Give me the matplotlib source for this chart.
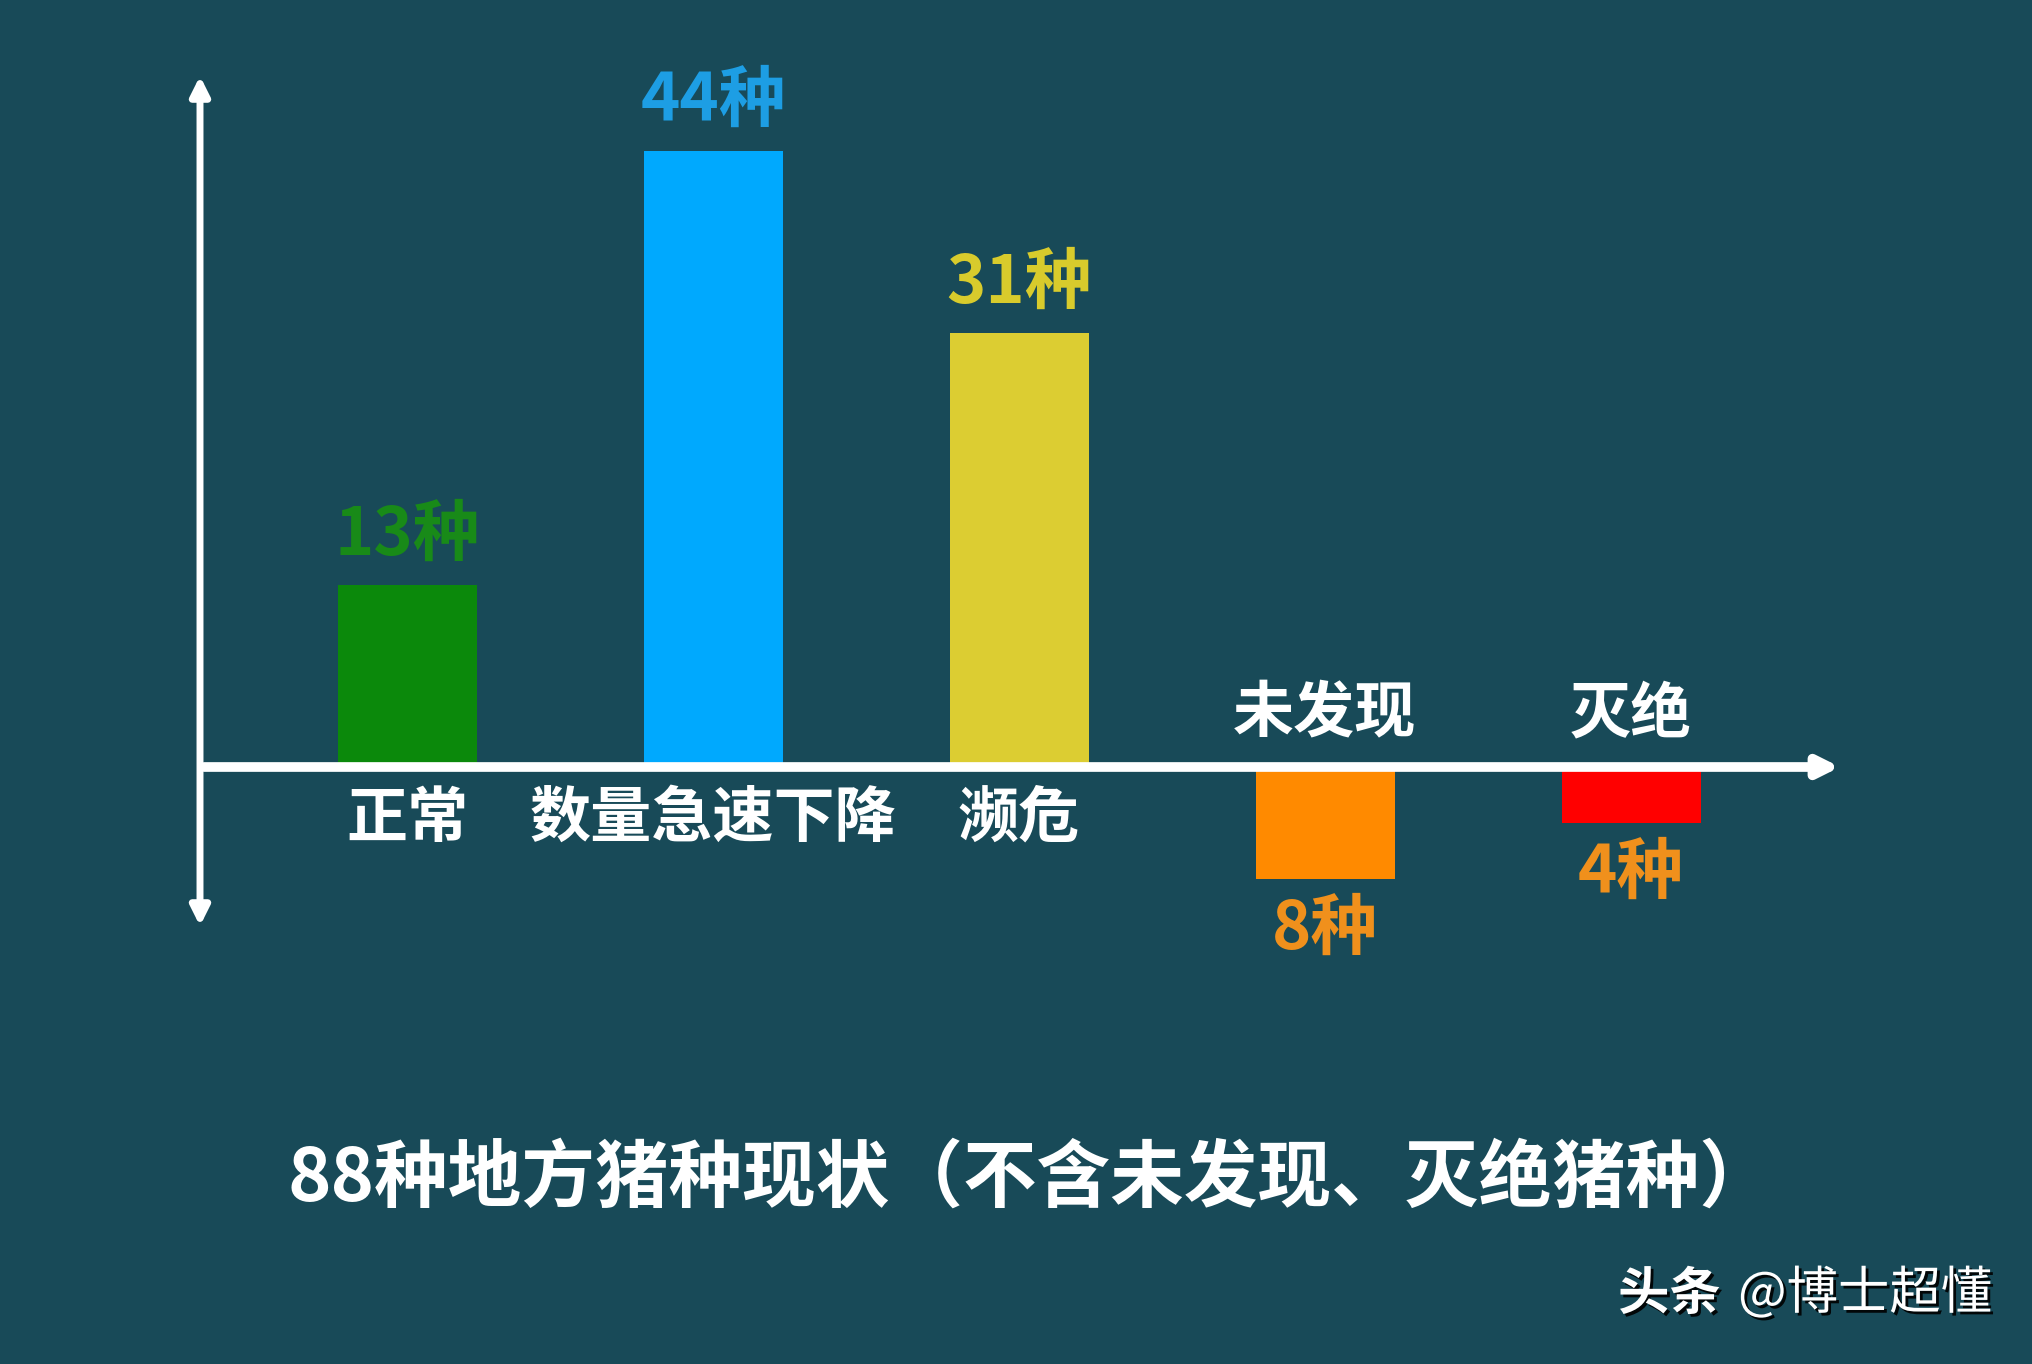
import matplotlib.pyplot as plt
import matplotlib.patheffects as pe

plt.rcParams['font.family'] = ['Noto Sans CJK SC', 'DejaVu Sans']

# data
categories = ['正常', '数量急速下降', '濒危', '未发现', '灭绝']
counts = [13, 44, 31, -8, -4]
value_labels = ['13种', '44种', '31种', '8种', '4种']
bar_colors = ['#0b890b', '#00a9fe', '#dccd32', '#ff8a00', '#ff0000']
label_colors = ['#188a18', '#1d9ee4', '#d8cb2c', '#f0901c', '#f0901c']
title = '88种地方猪种现状（不含未发现、灭绝猪种）'
watermark_bold = '头条'
watermark = '@博士超懂'

bg = '#184a58'
W, H = 2033, 1364
fig = plt.figure(figsize=(W / 100, H / 100), dpi=100, facecolor=bg)
ax = fig.add_axes([0, 0, 1, 1])
ax.set_facecolor(bg)

# pixel layout -> data units
x0_px, dx_px = 407, 306     # first category centre, spacing
zero_px, py = 767, 14.0     # zero line row, pixels per unit

def px_x(p):
    return (p - x0_px) / dx_px

def px_y(r):
    return (zero_px - r) / py

ax.set_xlim(px_x(0), px_x(W))
ax.set_ylim(px_y(H), px_y(0))
ax.axis('off')

xs = list(range(len(categories)))
ax.bar(xs, counts, width=139 / dx_px, color=bar_colors, zorder=2)

# axes arrows
ax.annotate('', xy=(px_x(200), px_y(76)), xytext=(px_x(200), px_y(926)),
            arrowprops=dict(arrowstyle='<|-|>', color='white', lw=5,
                            mutation_scale=28, shrinkA=0, shrinkB=0), zorder=3)
ax.annotate('', xy=(px_x(1840), 0), xytext=(px_x(204), 0),
            arrowprops=dict(arrowstyle='-|>', color='white', lw=7,
                            mutation_scale=30, shrinkA=0, shrinkB=0), zorder=3)

for x, v, lab, cat, c in zip(xs, counts, value_labels, categories, label_colors):
    sign = 1 if v > 0 else -1
    ax.annotate(lab, xy=(x, v), xytext=(0, sign * 50), textcoords='offset pixels',
                ha='center', va='center', fontsize=48, fontweight='heavy', color=c)
    ax.annotate(cat, xy=(x, 0), xytext=(0, -sign * 52), textcoords='offset pixels',
                ha='center', va='center', fontsize=44, fontweight='heavy', color='white')

fig.text(1030 / W, 1 - 1179 / H, title, ha='center', va='center',
         fontsize=53, fontweight='heavy', color='white')

shadow = [pe.withSimplePatchShadow(offset=(2, -2), shadow_rgbFace='black', alpha=0.9)]
fig.text(1618 / W, 1 - 1294 / H, watermark_bold, ha='left', va='center',
         fontsize=37, fontweight='bold', color='white', path_effects=shadow)
fig.text(1992 / W, 1 - 1294 / H, watermark, ha='right', va='center',
         fontsize=37, color='white', path_effects=shadow)

fig.savefig('out.png', dpi=100, facecolor=bg)
